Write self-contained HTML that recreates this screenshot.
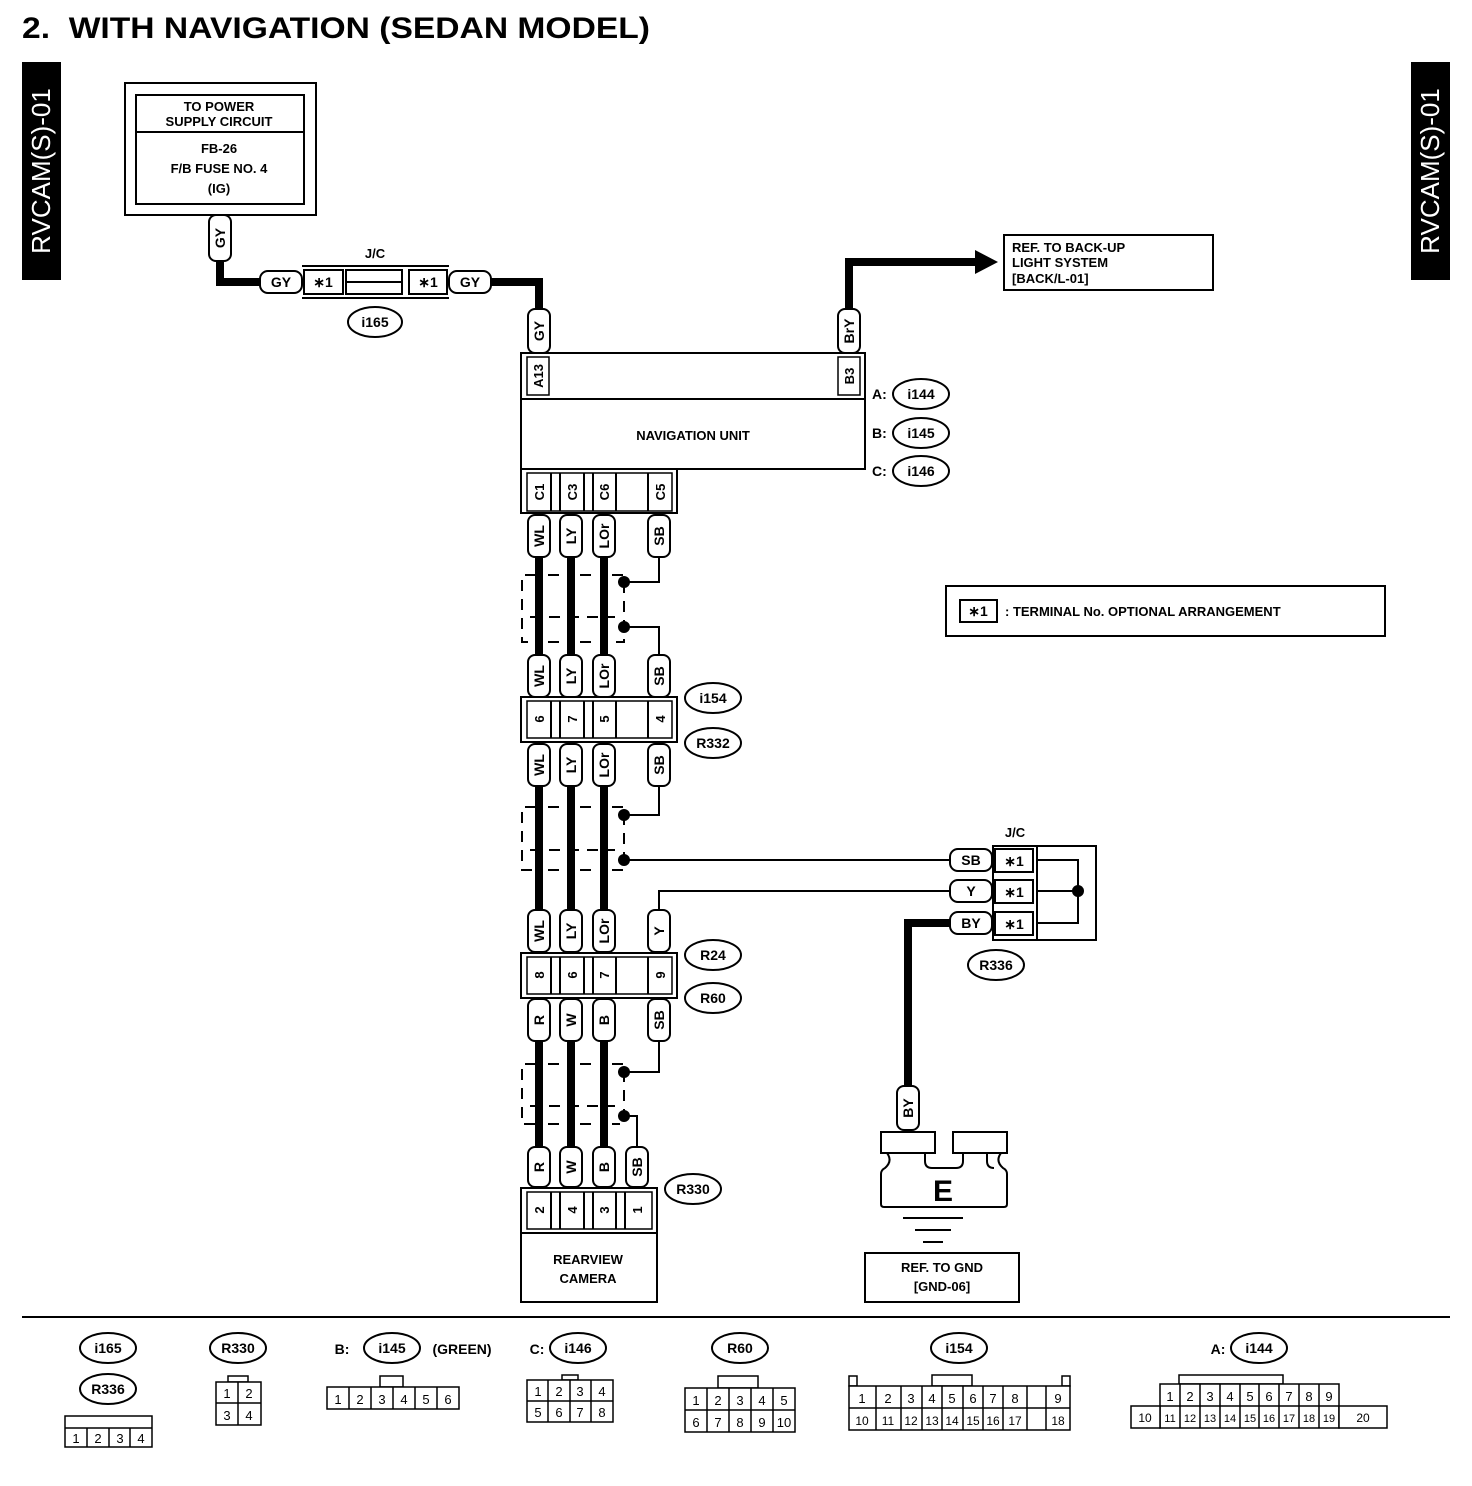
<!DOCTYPE html>
<html><head><meta charset="utf-8"><style>
html,body{margin:0;padding:0;background:#fff}
svg{display:block}
text{font-family:"Liberation Sans",Arial,sans-serif;font-weight:bold;fill:#000}
.p{fill:#fff;stroke:#000;stroke-width:2}
.t{font-size:14px;text-anchor:middle}
.s{font-size:13px;text-anchor:middle}
.n{font-size:13px;text-anchor:middle;font-weight:normal}
.w{stroke:#000;stroke-width:8;fill:none}
.l{stroke:#000;stroke-width:2;fill:none}
.d{stroke:#000;stroke-width:2;fill:none;stroke-dasharray:11 8}
.b{fill:#fff;stroke:#000;stroke-width:2}
.c{fill:#fff;stroke:#000;stroke-width:1.5}
</style></head><body>
<svg width="1472" height="1486" viewBox="0 0 1472 1486" xmlns="http://www.w3.org/2000/svg">
<text x="22" y="38" style="font-size:30px" textLength="628" lengthAdjust="spacingAndGlyphs">2.&#160;&#160;WITH NAVIGATION (SEDAN MODEL)</text>
<rect x="22" y="62" width="39" height="218" fill="#000"/>
<text transform="translate(50,171) rotate(-90)" style="font-size:26px;fill:#fff;text-anchor:middle;font-weight:normal">RVCAM(S)-01</text>
<rect x="1411" y="62" width="39" height="218" fill="#000"/>
<text transform="translate(1439,171) rotate(-90)" style="font-size:26px;fill:#fff;text-anchor:middle;font-weight:normal">RVCAM(S)-01</text>

<!-- power box -->
<rect x="125" y="83" width="191" height="132" class="b"/>
<rect x="136" y="95" width="168" height="109" class="b"/>
<line x1="136" y1="132" x2="304" y2="132" class="l"/>
<text x="219" y="111" class="s">TO POWER</text>
<text x="219" y="126" class="s">SUPPLY CIRCUIT</text>
<text x="219" y="153" class="s">FB-26</text>
<text x="219" y="173" class="s">F/B FUSE NO. 4</text>
<text x="219" y="193" class="s">(IG)</text>

<!-- GY wires -->
<polyline points="220,262 220,282 262,282" class="w"/>
<polyline points="489,282 539,282 539,312" class="w"/>
<g transform="translate(220,238) rotate(-90)"><rect x="-23" y="-11" width="46" height="22" rx="7" class="p"/><text y="5" class="t">GY</text></g>
<rect x="260" y="271" width="42" height="22" rx="8" class="p"/><text x="281" y="287" class="t">GY</text>
<line x1="302" y1="266" x2="449" y2="266" class="l"/>
<line x1="302" y1="298" x2="449" y2="298" class="l"/>
<rect x="304" y="270" width="39" height="24" class="b"/><text x="323" y="287" class="t">∗1</text>
<rect x="346" y="270" width="56" height="24" class="b"/><line x1="346" y1="282" x2="402" y2="282" class="l"/>
<rect x="409" y="270" width="38" height="24" class="b"/><text x="428" y="287" class="t">∗1</text>
<rect x="449" y="271" width="42" height="22" rx="8" class="p"/><text x="470" y="287" class="t">GY</text>
<text x="375" y="258" class="s">J/C</text>
<ellipse cx="375" cy="322" rx="27" ry="15" class="p"/><text x="375" y="327" class="t">i165</text>
<g transform="translate(539,331) rotate(-90)"><rect x="-22" y="-11" width="44" height="22" rx="7" class="p"/><text y="5" class="t">GY</text></g>

<!-- BrY -->
<polyline points="849,310 849,262 978,262" class="w"/>
<polygon points="975,250 998,262 975,274" fill="#000"/>
<g transform="translate(849,331) rotate(-90)"><rect x="-22" y="-11" width="44" height="22" rx="7" class="p"/><text y="5" class="t">BrY</text></g>
<rect x="1004" y="235" width="209" height="55" class="b"/>
<text x="1012" y="252" class="s" style="text-anchor:start">REF. TO BACK-UP</text>
<text x="1012" y="267" class="s" style="text-anchor:start">LIGHT SYSTEM</text>
<text x="1012" y="283" class="s" style="text-anchor:start">[BACK/L-01]</text>

<!-- Navigation unit -->
<rect x="521" y="353" width="344" height="46" class="b"/>
<rect x="527" y="357" width="22" height="38" class="c"/>
<rect x="838" y="357" width="22" height="38" class="c"/>
<text transform="translate(543,376) rotate(-90)" class="s">A13</text>
<text transform="translate(854,376) rotate(-90)" class="s">B3</text>
<rect x="521" y="399" width="344" height="70" class="b"/>
<text x="693" y="440" class="s">NAVIGATION UNIT</text>
<text x="872" y="399" class="t" style="text-anchor:start">A:</text>
<ellipse cx="921" cy="394" rx="28" ry="15" class="p"/><text x="921" y="399" class="t">i144</text>
<text x="872" y="438" class="t" style="text-anchor:start">B:</text>
<ellipse cx="921" cy="433" rx="28" ry="15" class="p"/><text x="921" y="438" class="t">i145</text>
<text x="872" y="476" class="t" style="text-anchor:start">C:</text>
<ellipse cx="921" cy="471" rx="28" ry="15" class="p"/><text x="921" y="476" class="t">i146</text>

<!-- nav bottom connector -->
<rect x="521" y="469" width="156" height="44" class="b"/>
<rect x="527" y="473" width="145" height="38" class="c"/>
<line x1="551" y1="473" x2="551" y2="511" class="l"/><line x1="560" y1="473" x2="560" y2="511" class="l"/>
<line x1="584" y1="473" x2="584" y2="511" class="l"/><line x1="593" y1="473" x2="593" y2="511" class="l"/>
<line x1="616" y1="473" x2="616" y2="511" class="l"/><line x1="648" y1="473" x2="648" y2="511" class="l"/>
<text transform="translate(544,492) rotate(-90)" class="s">C1</text>
<text transform="translate(577,492) rotate(-90)" class="s">C3</text>
<text transform="translate(609,492) rotate(-90)" class="s">C6</text>
<text transform="translate(665,492) rotate(-90)" class="s">C5</text>

<!-- segment 1 -->
<line x1="539" y1="555" x2="539" y2="657" class="w"/>
<line x1="571" y1="555" x2="571" y2="657" class="w"/>
<line x1="604" y1="555" x2="604" y2="657" class="w"/>
<path d="M536,575 H522 V642 H536 M548,575 H562 M580,575 H596 M612,575 H624 V642 H612 M580,642 H596 M548,642 H562" class="d"/>
<line x1="530" y1="617" x2="615" y2="617" class="d"/>
<polyline points="659,555 659,582 624,582" class="l"/>
<polyline points="624,627 659,627 659,657" class="l"/>
<circle cx="624" cy="582" r="6"/><circle cx="624" cy="627" r="6"/>
<g transform="translate(539,536) rotate(-90)"><rect x="-21" y="-11" width="42" height="22" rx="7" class="p"/><text y="5" class="t">WL</text></g>
<g transform="translate(571,536) rotate(-90)"><rect x="-21" y="-11" width="42" height="22" rx="7" class="p"/><text y="5" class="t">LY</text></g>
<g transform="translate(604,536) rotate(-90)"><rect x="-21" y="-11" width="42" height="22" rx="7" class="p"/><text y="5" class="t">LOr</text></g>
<g transform="translate(659,536) rotate(-90)"><rect x="-21" y="-11" width="42" height="22" rx="7" class="p"/><text y="5" class="t">SB</text></g>
<g transform="translate(539,676) rotate(-90)"><rect x="-21" y="-11" width="42" height="22" rx="7" class="p"/><text y="5" class="t">WL</text></g>
<g transform="translate(571,676) rotate(-90)"><rect x="-21" y="-11" width="42" height="22" rx="7" class="p"/><text y="5" class="t">LY</text></g>
<g transform="translate(604,676) rotate(-90)"><rect x="-21" y="-11" width="42" height="22" rx="7" class="p"/><text y="5" class="t">LOr</text></g>
<g transform="translate(659,676) rotate(-90)"><rect x="-21" y="-11" width="42" height="22" rx="7" class="p"/><text y="5" class="t">SB</text></g>

<!-- i154/R332 connector -->
<rect x="521" y="697" width="156" height="45" class="b"/>
<rect x="527" y="701" width="145" height="37" class="c"/>
<line x1="551" y1="701" x2="551" y2="738" class="l"/><line x1="560" y1="701" x2="560" y2="738" class="l"/>
<line x1="584" y1="701" x2="584" y2="738" class="l"/><line x1="593" y1="701" x2="593" y2="738" class="l"/>
<line x1="616" y1="701" x2="616" y2="738" class="l"/><line x1="648" y1="701" x2="648" y2="738" class="l"/>
<text transform="translate(544,719) rotate(-90)" class="s">6</text>
<text transform="translate(577,719) rotate(-90)" class="s">7</text>
<text transform="translate(609,719) rotate(-90)" class="s">5</text>
<text transform="translate(665,719) rotate(-90)" class="s">4</text>
<ellipse cx="713" cy="698" rx="28" ry="15" class="p"/><text x="713" y="703" class="t">i154</text>
<ellipse cx="713" cy="743" rx="28" ry="15" class="p"/><text x="713" y="748" class="t">R332</text>

<!-- segment 2 -->
<line x1="539" y1="785" x2="539" y2="912" class="w"/>
<line x1="571" y1="785" x2="571" y2="912" class="w"/>
<line x1="604" y1="785" x2="604" y2="912" class="w"/>
<path d="M536,807 H522 V870 H536 M548,807 H562 M580,807 H596 M612,807 H624 V870 H612 M580,870 H596 M548,870 H562" class="d"/>
<line x1="530" y1="850" x2="615" y2="850" class="d"/>
<polyline points="659,785 659,815 624,815" class="l"/>
<line x1="624" y1="860" x2="952" y2="860" class="l"/>
<polyline points="659,912 659,891 952,891" class="l"/>
<circle cx="624" cy="815" r="6"/><circle cx="624" cy="860" r="6"/>
<g transform="translate(539,765) rotate(-90)"><rect x="-21" y="-11" width="42" height="22" rx="7" class="p"/><text y="5" class="t">WL</text></g>
<g transform="translate(571,765) rotate(-90)"><rect x="-21" y="-11" width="42" height="22" rx="7" class="p"/><text y="5" class="t">LY</text></g>
<g transform="translate(604,765) rotate(-90)"><rect x="-21" y="-11" width="42" height="22" rx="7" class="p"/><text y="5" class="t">LOr</text></g>
<g transform="translate(659,765) rotate(-90)"><rect x="-21" y="-11" width="42" height="22" rx="7" class="p"/><text y="5" class="t">SB</text></g>
<g transform="translate(539,931) rotate(-90)"><rect x="-21" y="-11" width="42" height="22" rx="7" class="p"/><text y="5" class="t">WL</text></g>
<g transform="translate(571,931) rotate(-90)"><rect x="-21" y="-11" width="42" height="22" rx="7" class="p"/><text y="5" class="t">LY</text></g>
<g transform="translate(604,931) rotate(-90)"><rect x="-21" y="-11" width="42" height="22" rx="7" class="p"/><text y="5" class="t">LOr</text></g>
<g transform="translate(659,931) rotate(-90)"><rect x="-21" y="-11" width="42" height="22" rx="7" class="p"/><text y="5" class="t">Y</text></g>

<!-- R24/R60 connector -->
<rect x="521" y="953" width="156" height="45" class="b"/>
<rect x="527" y="957" width="145" height="37" class="c"/>
<line x1="551" y1="957" x2="551" y2="994" class="l"/><line x1="560" y1="957" x2="560" y2="994" class="l"/>
<line x1="584" y1="957" x2="584" y2="994" class="l"/><line x1="593" y1="957" x2="593" y2="994" class="l"/>
<line x1="616" y1="957" x2="616" y2="994" class="l"/><line x1="648" y1="957" x2="648" y2="994" class="l"/>
<text transform="translate(544,975) rotate(-90)" class="s">8</text>
<text transform="translate(577,975) rotate(-90)" class="s">6</text>
<text transform="translate(609,975) rotate(-90)" class="s">7</text>
<text transform="translate(665,975) rotate(-90)" class="s">9</text>
<ellipse cx="713" cy="955" rx="28" ry="15" class="p"/><text x="713" y="960" class="t">R24</text>
<ellipse cx="713" cy="998" rx="28" ry="15" class="p"/><text x="713" y="1003" class="t">R60</text>

<!-- segment 3 -->
<line x1="539" y1="1041" x2="539" y2="1150" class="w"/>
<line x1="571" y1="1041" x2="571" y2="1150" class="w"/>
<line x1="604" y1="1041" x2="604" y2="1150" class="w"/>
<path d="M536,1064 H522 V1124 H536 M548,1064 H562 M580,1064 H596 M612,1064 H624 V1124 H612 M580,1124 H596 M548,1124 H562" class="d"/>
<line x1="530" y1="1106" x2="615" y2="1106" class="d"/>
<polyline points="659,1041 659,1072 624,1072" class="l"/>
<polyline points="624,1116 637,1116 637,1148" class="l"/>
<circle cx="624" cy="1072" r="6"/><circle cx="624" cy="1116" r="6"/>
<g transform="translate(539,1020) rotate(-90)"><rect x="-21" y="-11" width="42" height="22" rx="7" class="p"/><text y="5" class="t">R</text></g>
<g transform="translate(571,1020) rotate(-90)"><rect x="-21" y="-11" width="42" height="22" rx="7" class="p"/><text y="5" class="t">W</text></g>
<g transform="translate(604,1020) rotate(-90)"><rect x="-21" y="-11" width="42" height="22" rx="7" class="p"/><text y="5" class="t">B</text></g>
<g transform="translate(659,1020) rotate(-90)"><rect x="-21" y="-11" width="42" height="22" rx="7" class="p"/><text y="5" class="t">SB</text></g>
<g transform="translate(539,1167) rotate(-90)"><rect x="-20" y="-11" width="40" height="22" rx="7" class="p"/><text y="5" class="t">R</text></g>
<g transform="translate(571,1167) rotate(-90)"><rect x="-20" y="-11" width="40" height="22" rx="7" class="p"/><text y="5" class="t">W</text></g>
<g transform="translate(604,1167) rotate(-90)"><rect x="-20" y="-11" width="40" height="22" rx="7" class="p"/><text y="5" class="t">B</text></g>
<g transform="translate(637,1167) rotate(-90)"><rect x="-20" y="-11" width="40" height="22" rx="7" class="p"/><text y="5" class="t">SB</text></g>

<!-- R330 camera -->
<rect x="521" y="1188" width="136" height="45" class="b"/>
<rect x="527" y="1192" width="125" height="37" class="c"/>
<line x1="551" y1="1192" x2="551" y2="1229" class="l"/><line x1="560" y1="1192" x2="560" y2="1229" class="l"/>
<line x1="584" y1="1192" x2="584" y2="1229" class="l"/><line x1="593" y1="1192" x2="593" y2="1229" class="l"/>
<line x1="616" y1="1192" x2="616" y2="1229" class="l"/><line x1="625" y1="1192" x2="625" y2="1229" class="l"/>
<text transform="translate(544,1210) rotate(-90)" class="s">2</text>
<text transform="translate(577,1210) rotate(-90)" class="s">4</text>
<text transform="translate(609,1210) rotate(-90)" class="s">3</text>
<text transform="translate(642,1210) rotate(-90)" class="s">1</text>
<ellipse cx="693" cy="1189" rx="28" ry="15" class="p"/><text x="693" y="1194" class="t">R330</text>
<rect x="521" y="1233" width="136" height="69" class="b"/>
<text x="588" y="1264" class="s">REARVIEW</text>
<text x="588" y="1283" class="s">CAMERA</text>

<!-- J/C right -->
<text x="1015" y="837" class="s">J/C</text>
<polyline points="952,923 908,923 908,1088" class="w"/>
<rect x="950" y="849" width="42" height="22" rx="8" class="p"/><text x="971" y="865" class="t">SB</text>
<rect x="950" y="880" width="42" height="22" rx="8" class="p"/><text x="971" y="896" class="t">Y</text>
<rect x="950" y="912" width="42" height="22" rx="8" class="p"/><text x="971" y="928" class="t">BY</text>
<rect x="993" y="846" width="103" height="94" class="b"/>
<rect x="995" y="849" width="38" height="23" class="b"/><text x="1014" y="866" class="t">∗1</text>
<rect x="995" y="880" width="38" height="23" class="b"/><text x="1014" y="897" class="t">∗1</text>
<rect x="995" y="912" width="38" height="23" class="b"/><text x="1014" y="929" class="t">∗1</text>
<line x1="1037" y1="846" x2="1037" y2="940" class="l"/>
<polyline points="1037,860 1078,860 1078,923 1037,923" class="l"/>
<line x1="1037" y1="891" x2="1078" y2="891" class="l"/>
<circle cx="1078" cy="891" r="6"/>
<ellipse cx="996" cy="965" rx="28" ry="15" class="p"/><text x="996" y="970" class="t">R336</text>

<!-- ground -->
<g transform="translate(908,1108) rotate(-90)"><rect x="-22" y="-11" width="44" height="22" rx="7" class="p"/><text y="5" class="t">BY</text></g>
<rect x="881" y="1132" width="54" height="21" class="b"/>
<rect x="953" y="1132" width="54" height="21" class="b"/>
<path d="M887,1153 Q893,1161 885,1168 Q881,1170 881,1174 V1204 Q881,1207 884,1207 H1004 Q1007,1207 1007,1204 V1174 Q1007,1170 1003,1168 Q995,1161 1001,1153" class="l"/>
<path d="M925,1153 V1161 Q925,1168 932,1168 H956 Q963,1168 963,1161 V1153" class="l"/>
<path d="M987,1153 V1161 Q987,1168 994,1168" class="l"/>
<text x="943" y="1201" style="font-size:30px;text-anchor:middle">E</text>
<line x1="903" y1="1218" x2="963" y2="1218" class="l"/>
<line x1="915" y1="1230" x2="951" y2="1230" class="l"/>
<line x1="923" y1="1242" x2="943" y2="1242" class="l"/>
<rect x="865" y="1253" width="154" height="49" class="b"/>
<text x="942" y="1272" class="s">REF. TO GND</text>
<text x="942" y="1291" class="s">[GND-06]</text>

<!-- legend -->
<rect x="946" y="586" width="439" height="50" class="b"/>
<rect x="960" y="600" width="37" height="22" class="b"/><text x="978" y="616" class="t">∗1</text>
<text x="1005" y="616" class="s" style="text-anchor:start">: TERMINAL No. OPTIONAL ARRANGEMENT</text>

<line x1="22" y1="1317" x2="1450" y2="1317" class="l"/>

<!-- bottom connectors -->
<ellipse cx="108" cy="1348" rx="28" ry="15" class="p"/><text x="108" y="1353" class="t">i165</text>
<ellipse cx="108" cy="1389" rx="28" ry="15" class="p"/><text x="108" y="1394" class="t">R336</text>
<g stroke="#000" stroke-width="1.5" fill="#fff">
<rect x="65" y="1416" width="87" height="31"/><line x1="65" y1="1428" x2="152" y2="1428"/>
<line x1="87" y1="1428" x2="87" y2="1447"/><line x1="109" y1="1428" x2="109" y2="1447"/><line x1="130" y1="1428" x2="130" y2="1447"/>
</g>
<text x="76" y="1443" class="n">1</text><text x="98" y="1443" class="n">2</text><text x="120" y="1443" class="n">3</text><text x="141" y="1443" class="n">4</text>

<ellipse cx="238" cy="1348" rx="28" ry="15" class="p"/><text x="238" y="1353" class="t">R330</text>
<g stroke="#000" stroke-width="1.5" fill="#fff">
<rect x="228" y="1376" width="20" height="6"/>
<rect x="216" y="1382" width="45" height="43"/><line x1="216" y1="1403" x2="261" y2="1403"/><line x1="238" y1="1382" x2="238" y2="1425"/>
</g>
<text x="227" y="1398" class="n">1</text><text x="249" y="1398" class="n">2</text><text x="227" y="1420" class="n">3</text><text x="249" y="1420" class="n">4</text>

<text x="342" y="1354" class="t">B:</text>
<ellipse cx="392" cy="1348" rx="28" ry="15" class="p"/><text x="392" y="1353" class="t">i145</text>
<text x="462" y="1354" class="t">(GREEN)</text>
<g stroke="#000" stroke-width="1.5" fill="#fff">
<rect x="380" y="1376" width="23" height="11"/>
<rect x="327" y="1387" width="132" height="22"/>
<line x1="349" y1="1387" x2="349" y2="1409"/><line x1="371" y1="1387" x2="371" y2="1409"/><line x1="393" y1="1387" x2="393" y2="1409"/><line x1="415" y1="1387" x2="415" y2="1409"/><line x1="437" y1="1387" x2="437" y2="1409"/>
</g>
<text x="338" y="1404" class="n">1</text><text x="360" y="1404" class="n">2</text><text x="382" y="1404" class="n">3</text><text x="404" y="1404" class="n">4</text><text x="426" y="1404" class="n">5</text><text x="448" y="1404" class="n">6</text>

<text x="537" y="1354" class="t">C:</text>
<ellipse cx="578" cy="1348" rx="28" ry="15" class="p"/><text x="578" y="1353" class="t">i146</text>
<g stroke="#000" stroke-width="1.5" fill="#fff">
<rect x="562" y="1375" width="16" height="5"/>
<rect x="527" y="1380" width="86" height="42"/><line x1="527" y1="1401" x2="613" y2="1401"/>
<line x1="548" y1="1380" x2="548" y2="1422"/><line x1="570" y1="1380" x2="570" y2="1422"/><line x1="591" y1="1380" x2="591" y2="1422"/>
</g>
<text x="538" y="1396" class="n">1</text><text x="559" y="1396" class="n">2</text><text x="580" y="1396" class="n">3</text><text x="602" y="1396" class="n">4</text>
<text x="538" y="1417" class="n">5</text><text x="559" y="1417" class="n">6</text><text x="580" y="1417" class="n">7</text><text x="602" y="1417" class="n">8</text>

<ellipse cx="740" cy="1348" rx="28" ry="15" class="p"/><text x="740" y="1353" class="t">R60</text>
<g stroke="#000" stroke-width="1.5" fill="#fff">
<rect x="718" y="1376" width="40" height="12"/>
<rect x="685" y="1388" width="110" height="44"/><line x1="685" y1="1410" x2="795" y2="1410"/>
<line x1="707" y1="1388" x2="707" y2="1432"/><line x1="729" y1="1388" x2="729" y2="1432"/><line x1="751" y1="1388" x2="751" y2="1432"/><line x1="773" y1="1388" x2="773" y2="1432"/>
</g>
<text x="696" y="1405" class="n">1</text><text x="718" y="1405" class="n">2</text><text x="740" y="1405" class="n">3</text><text x="762" y="1405" class="n">4</text><text x="784" y="1405" class="n">5</text>
<text x="696" y="1427" class="n">6</text><text x="718" y="1427" class="n">7</text><text x="740" y="1427" class="n">8</text><text x="762" y="1427" class="n">9</text><text x="784" y="1427" class="n">10</text>

<ellipse cx="959" cy="1348" rx="28" ry="15" class="p"/><text x="959" y="1353" class="t">i154</text>
<g stroke="#000" stroke-width="1.5" fill="#fff">
<rect x="849" y="1376" width="8" height="10"/><rect x="1062" y="1376" width="8" height="10"/>
<rect x="932" y="1375" width="40" height="11"/>
<rect x="849" y="1386" width="221" height="44"/><line x1="849" y1="1408" x2="1070" y2="1408"/>
<line x1="876" y1="1386" x2="876" y2="1430"/><line x1="901" y1="1386" x2="901" y2="1430"/><line x1="922" y1="1386" x2="922" y2="1430"/><line x1="942" y1="1386" x2="942" y2="1430"/><line x1="963" y1="1386" x2="963" y2="1430"/><line x1="983" y1="1386" x2="983" y2="1430"/><line x1="1003" y1="1386" x2="1003" y2="1430"/><line x1="1027" y1="1386" x2="1027" y2="1430"/><line x1="1046" y1="1386" x2="1046" y2="1430"/>
</g>
<text x="862" y="1403" class="n">1</text><text x="888" y="1403" class="n">2</text><text x="911" y="1403" class="n">3</text><text x="932" y="1403" class="n">4</text><text x="952" y="1403" class="n">5</text><text x="973" y="1403" class="n">6</text><text x="993" y="1403" class="n">7</text><text x="1015" y="1403" class="n">8</text><text x="1058" y="1403" class="n">9</text>
<text x="862" y="1425" class="n" style="font-size:12px">10</text><text x="888" y="1425" class="n" style="font-size:12px">11</text><text x="911" y="1425" class="n" style="font-size:12px">12</text><text x="932" y="1425" class="n" style="font-size:12px">13</text><text x="952" y="1425" class="n" style="font-size:12px">14</text><text x="973" y="1425" class="n" style="font-size:12px">15</text><text x="993" y="1425" class="n" style="font-size:12px">16</text><text x="1015" y="1425" class="n" style="font-size:12px">17</text><text x="1058" y="1425" class="n" style="font-size:12px">18</text>

<text x="1218" y="1354" class="t">A:</text>
<ellipse cx="1259" cy="1348" rx="28" ry="15" class="p"/><text x="1259" y="1353" class="t">i144</text>
<g stroke="#000" stroke-width="1.5" fill="#fff">
<rect x="1179" y="1375" width="104" height="9"/>
<rect x="1160" y="1384" width="179" height="44"/>
<rect x="1131" y="1406" width="29" height="22"/><rect x="1339" y="1406" width="48" height="22"/>
<line x1="1160" y1="1406" x2="1339" y2="1406"/>
<line x1="1180" y1="1384" x2="1180" y2="1428"/><line x1="1200" y1="1384" x2="1200" y2="1428"/><line x1="1220" y1="1384" x2="1220" y2="1428"/><line x1="1240" y1="1384" x2="1240" y2="1428"/><line x1="1259" y1="1384" x2="1259" y2="1428"/><line x1="1279" y1="1384" x2="1279" y2="1428"/><line x1="1299" y1="1384" x2="1299" y2="1428"/><line x1="1319" y1="1384" x2="1319" y2="1428"/>
</g>
<text x="1170" y="1401" class="n">1</text><text x="1190" y="1401" class="n">2</text><text x="1210" y="1401" class="n">3</text><text x="1230" y="1401" class="n">4</text><text x="1250" y="1401" class="n">5</text><text x="1269" y="1401" class="n">6</text><text x="1289" y="1401" class="n">7</text><text x="1309" y="1401" class="n">8</text><text x="1329" y="1401" class="n">9</text>
<text x="1145" y="1422" class="n" style="font-size:12px">10</text><text x="1170" y="1422" class="n" style="font-size:11px">11</text><text x="1190" y="1422" class="n" style="font-size:11px">12</text><text x="1210" y="1422" class="n" style="font-size:11px">13</text><text x="1230" y="1422" class="n" style="font-size:11px">14</text><text x="1250" y="1422" class="n" style="font-size:11px">15</text><text x="1269" y="1422" class="n" style="font-size:11px">16</text><text x="1289" y="1422" class="n" style="font-size:11px">17</text><text x="1309" y="1422" class="n" style="font-size:11px">18</text><text x="1329" y="1422" class="n" style="font-size:11px">19</text><text x="1363" y="1422" class="n" style="font-size:12px">20</text>
</svg>
</body></html>
